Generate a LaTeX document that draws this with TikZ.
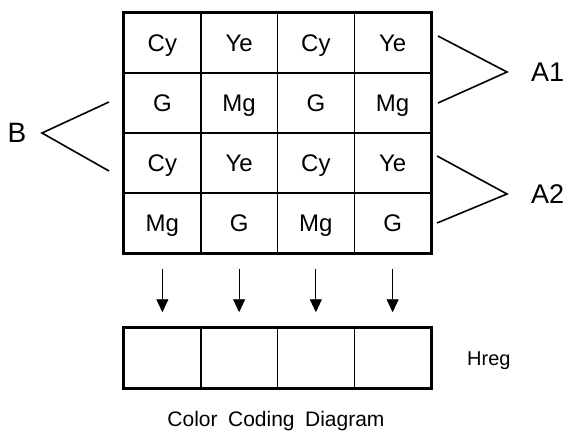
\documentclass[tikz,border=0pt]{standalone}
\usepackage{fontspec}
\setmainfont{Liberation Sans}
\usetikzlibrary{arrows.meta, positioning}

\tikzset{
  cell/.style={draw, line width=1.5pt, minimum width=76.75pt, minimum height=60pt,
    inner sep=0pt, text height=17pt, text depth=0pt, font=\fontsize{24}{28}\selectfont},
  brace/.style={line width=1.6pt, line join=miter},
  down/.style={line width=0.9pt, -{Triangle[width=12pt, length=13pt]},
    shorten <=15pt, shorten >=15pt}
}

\begin{document}
\begin{tikzpicture}[x=1pt, y=-1pt]
  \useasboundingbox (0,0) rectangle (571,433);

  % Color filter array
  \foreach \r/\a/\b in {1/Cy/Ye, 2/G/Mg, 3/Cy/Ye, 4/Mg/G} {
    \foreach \c in {1,...,4} {
      \ifodd\c
        \node[cell] (c-\r-\c) at ({124+76.75*(\c-0.5)}, {13+60*(\r-0.5)}) {\a};
      \else
        \node[cell] (c-\r-\c) at ({124+76.75*(\c-0.5)}, {13+60*(\r-0.5)}) {\b};
      \fi
    }
  }
  \draw[line width=2pt] (c-1-1.north west) rectangle (c-4-4.south east);

  % Horizontal register
  \foreach \c in {1,...,4}
    \node[cell] (reg-\c) at ({124+76.75*(\c-0.5)}, 358) {};
  \draw[line width=2pt] (reg-1.north west) rectangle (reg-4.south east);

  % Transfer arrows
  \foreach \c in {1,...,4}
    \draw[down] (c-4-\c.south) -- (reg-\c.north);

  % Brackets and labels
  \draw[brace] (109,102) -- (42,133) -- (109,171);
  \node[text height=19pt, text depth=0pt, inner sep=0pt,
    font=\fontsize{28}{32}\selectfont] (lblB) at (17,133) {B};

  \draw[brace] (438,36) -- (507,72) -- (438,103);
  \node[anchor=west, text height=19pt, text depth=0pt, inner sep=0pt,
    font=\fontsize{27}{31}\selectfont] (lblA1) at (531,72) {A1};

  \draw[brace] (437,156) -- (507,194) -- (437,223);
  \node[anchor=west, text height=19pt, text depth=0pt, inner sep=0pt,
    font=\fontsize{27}{31}\selectfont] (lblA2) at (531,194) {A2};

  \node[anchor=west, text height=14pt, text depth=0pt, inner sep=0pt,
    font=\fontsize{20}{24}\selectfont] (hreg) at (467,358) {Hreg};

  % Caption
  \node[font=\fontsize{21}{25}\selectfont] (caption) at (276,421) {Color\hspace{0.5em}Coding\hspace{0.5em}Diagram};
\end{tikzpicture}
\end{document}
